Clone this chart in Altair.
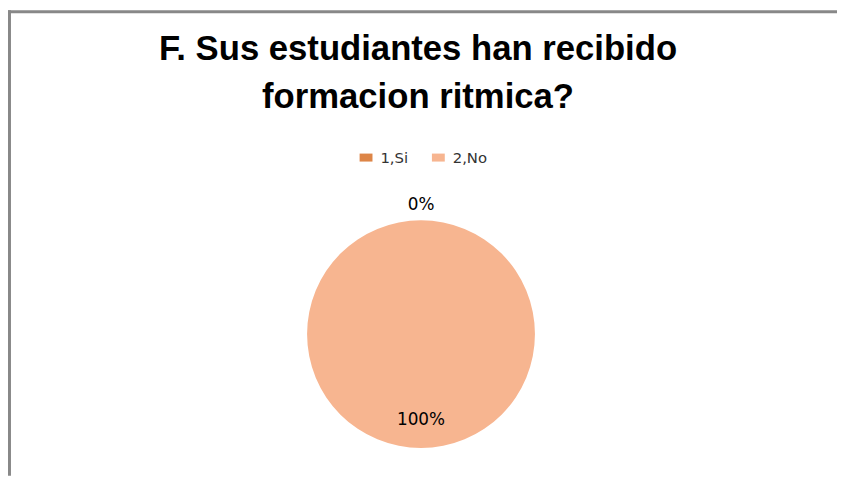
import altair as alt
import pandas as pd

# ---- data ----
categories = ["1,Si", "2,No"]
shares = [0.0, 1.0]
colors = ["#DD8547", "#F7B590"]
title_lines = ["F. Sus estudiantes han recibido", "formacion ritmica?"]

df = pd.DataFrame({"category": categories, "share": shares})

W, H = 837, 470
CX, CY = 417, 327
BORDER = "#888888"

base = alt.Chart(df)
one = alt.Data(values=[{}])

border_top = alt.Chart(one).mark_rule(color=BORDER, strokeWidth=3).encode(
    x=alt.value(0), x2=alt.value(W), y=alt.value(1.5)
)
border_left = alt.Chart(one).mark_rule(color=BORDER, strokeWidth=3).encode(
    x=alt.value(1.5), y=alt.value(0), y2=alt.value(H)
)

title = alt.Chart(one).mark_text(
    text=title_lines, font="Liberation Sans", fontWeight="bold", fontSize=35,
    lineHeight=49, align="center", baseline="alphabetic", color="#000000"
).encode(x=alt.value(414), y=alt.value(50))

pie = base.mark_arc(outerRadius=115).encode(
    theta=alt.Theta("share:Q", stack=True),
    color=alt.Color(
        "category:N",
        scale=alt.Scale(domain=categories, range=colors),
        legend=alt.Legend(
            title=None, orient="none", legendX=354, legendY=141,
            direction="horizontal", symbolType="M-1,-0.62H1V0.62H-1Z",
            symbolSize=169, symbolStrokeWidth=0, labelFontSize=15,
            labelFont="DejaVu Sans", labelColor="#333333", labelOffset=7,
            columnPadding=22, padding=0,
        ),
    ),
    order=alt.Order("category:N"),
    x=alt.value(CX),
    y=alt.value(CY),
)

def label_layer(cat, r):
    return base.transform_filter(alt.datum.category == cat).mark_text(
        radius=r, font="DejaVu Sans", fontSize=17, color="#000000",
        align="center", baseline="middle"
    ).encode(
        theta=alt.Theta("share:Q", stack=True),
        text=alt.Text("share:Q", format=".0%"),
        x=alt.value(CX),
        y=alt.value(CY),
    )

lbl_si = label_layer("1,Si", 130)
lbl_no = label_layer("2,No", 87)

chart = alt.layer(border_top, border_left, title, pie, lbl_si, lbl_no).properties(
    width=W, height=H, autosize="none", padding=0
).configure_view(stroke=None)

chart.save("out.html", embed_options={"renderer": "svg", "actions": False})
